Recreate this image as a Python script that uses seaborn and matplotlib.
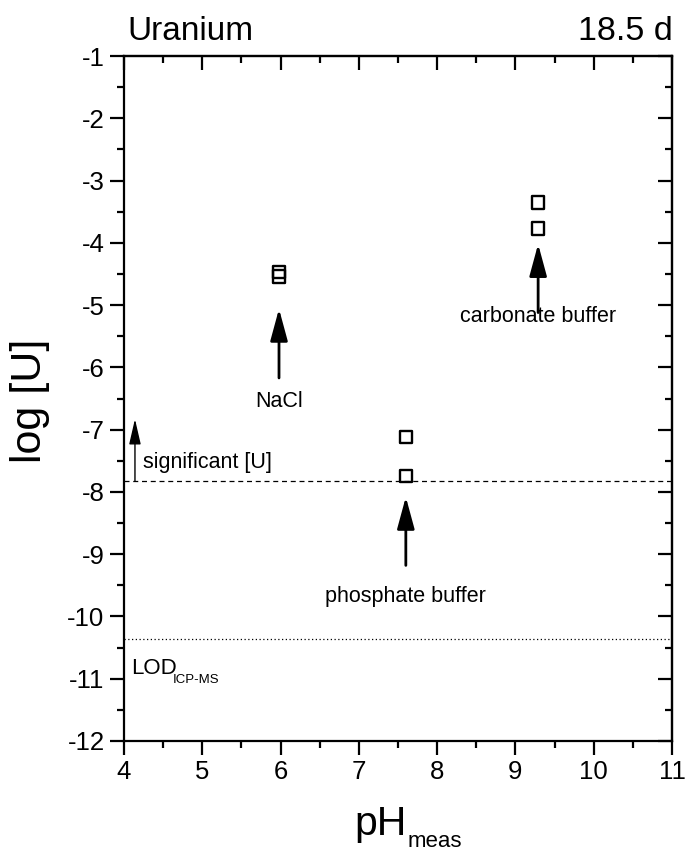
import matplotlib
matplotlib.use("Agg")
import matplotlib.pyplot as plt
import seaborn as sns
import pandas as pd
from matplotlib.ticker import MultipleLocator

# Data
ph_meas = [5.98, 5.98, 7.60, 7.60, 9.29, 9.29]
log_u = [-4.47, -4.54, -7.12, -7.74, -3.35, -3.77]
system = ["NaCl", "NaCl", "phosphate buffer", "phosphate buffer",
          "carbonate buffer", "carbonate buffer"]
significant_level = -7.83
lod_level = -10.36

sns.set_theme(style="white")
plt.rcParams['font.family'] = ['Liberation Sans', 'DejaVu Sans']
plt.rcParams['text.color'] = 'black'
plt.rcParams['axes.labelcolor'] = 'black'
plt.rcParams['xtick.color'] = 'black'
plt.rcParams['ytick.color'] = 'black'

W, H = 685, 852
def px(x, y):
    return (x / W, 1 - y / H)

df = pd.DataFrame({"pH": ph_meas, "logU": log_u, "system": system})

fig = plt.figure(figsize=(6.85, 8.52), dpi=100)
ax = fig.add_axes([124/W, 1-741/H, (672-124)/W, (741-56)/H])

sns.scatterplot(data=df, x="pH", y="logU", marker="s", s=80,
                facecolor="none", edgecolor="black", linewidth=1.7, ax=ax,
                legend=False, zorder=3)

ax.axhline(significant_level, color="black", lw=0.9, ls=(0, (4, 3)))
ax.axhline(lod_level, color="black", lw=0.9, ls=(0, (1, 2)))

ax.set_xlim(4, 11)
ax.set_ylim(-12, -1)
ax.xaxis.set_major_locator(MultipleLocator(1))
ax.xaxis.set_minor_locator(MultipleLocator(0.5))
ax.yaxis.set_major_locator(MultipleLocator(1))
ax.yaxis.set_minor_locator(MultipleLocator(0.5))

for s in ax.spines.values():
    s.set_linewidth(1.6)
    s.set_color("black")

ax.tick_params(which="both", bottom=True, left=True, top=False, right=False,
               direction="out", color="black", width=1.6, labelsize=18.5,
               labelcolor="black")
ax.tick_params(which="major", length=10, pad=4)
ax.tick_params(which="minor", length=5)
ax2 = ax.secondary_xaxis('top')
ax2.set_xticks(range(4, 12))
ax2.xaxis.set_minor_locator(MultipleLocator(0.5))
ax2.tick_params(which="both", direction="in", width=1.6, labeltop=False, color="black")
ax2.tick_params(which="major", length=10)
ax2.tick_params(which="minor", length=5)
ax2.spines['top'].set_linewidth(1.6)
ax3 = ax.secondary_yaxis('right')
ax3.set_yticks(range(-12, 0))
ax3.yaxis.set_minor_locator(MultipleLocator(0.5))
ax3.tick_params(which="both", direction="in", width=1.6, labelright=False, color="black")
ax3.tick_params(which="major", length=10)
ax3.tick_params(which="minor", length=5)
ax3.spines['right'].set_linewidth(1.6)

ax.set_yticklabels([f"{int(t)}" for t in ax.get_yticks()])
ax.set_xlabel("")
ax.set_ylabel("")

# Axis labels
fig.text(*px(30, 401), "log [U]", fontsize=31, rotation=90, ha="center", va="center")
fig.text(*px(407, 835), "pH", fontsize=29.5, ha="right", va="baseline")
fig.text(*px(408, 847), "meas", fontsize=16, ha="left", va="baseline")

# Titles
fig.text(*px(127, 32), "Uranium", fontsize=24, ha="left", va="center")
fig.text(*px(673, 32), "18.5 d", fontsize=24.5, ha="right", va="center")

# Arrows
big = dict(arrowstyle="-|>,head_length=1.4,head_width=0.38", color="black",
           lw=2.0, mutation_scale=14, shrinkA=0, shrinkB=0)
ax.annotate("", xy=(5.98, -5.06), xytext=(5.98, -6.17), arrowprops=big)
ax.annotate("", xy=(7.60, -8.08), xytext=(7.60, -9.18), arrowprops=big)
ax.annotate("", xy=(9.29, -4.02), xytext=(9.29, -5.12), arrowprops=big)
small = dict(arrowstyle="-|>,head_length=1.3,head_width=0.3", color="black",
             lw=1.0, mutation_scale=12, shrinkA=0, shrinkB=0)
ax.annotate("", xy=(4.14, -6.83), xytext=(4.14, significant_level), arrowprops=small)

fs = 15.5
ax.text(5.98, -6.55, "NaCl", fontsize=fs, ha="center", va="center")
ax.text(9.29, -5.18, "carbonate buffer", fontsize=fs, ha="center", va="center")
ax.text(7.60, -9.68, "phosphate buffer", fontsize=fs, ha="center", va="center")
ax.text(4.24, -7.52, "significant [U]", fontsize=fs, ha="left", va="center")
fig.text(*px(131, 674), "LOD", fontsize=16, ha="left", va="baseline")
fig.text(*px(173, 683), "ICP-MS", fontsize=9.5, ha="left", va="baseline")

fig.savefig("out.png", dpi=100)
